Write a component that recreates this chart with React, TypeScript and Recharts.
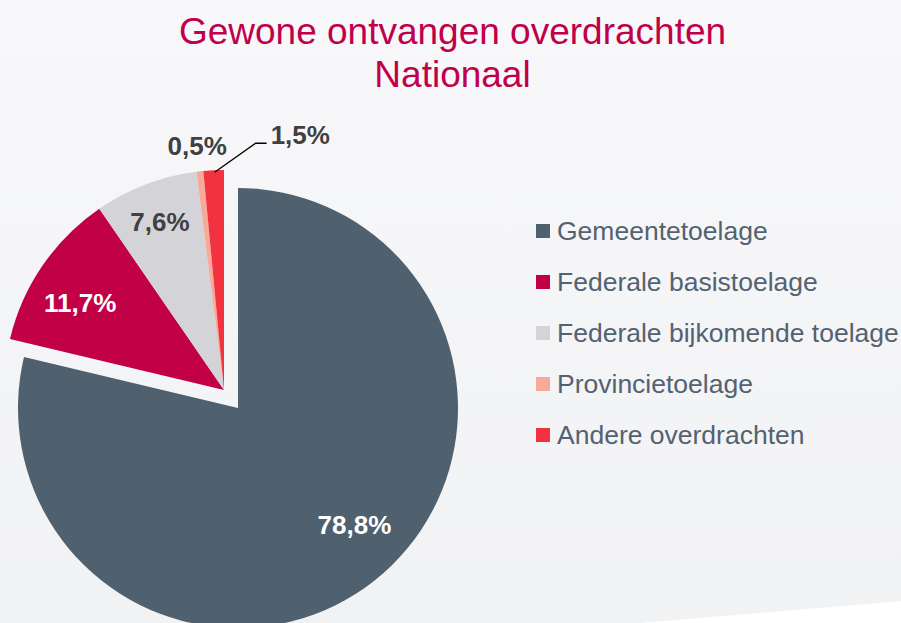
import React from 'react';
import { PieChart, Pie, Cell } from 'recharts';

const categories = [
  'Gemeentetoelage',
  'Federale basistoelage',
  'Federale bijkomende toelage',
  'Provincietoelage',
  'Andere overdrachten',
];
const shares = [78.8, 11.7, 7.6, 0.5, 1.5];
const colors = ['#4f606e', '#c20045', '#d4d4d8', '#f7aa9a', '#f2333f'];
const labelColors = ['#ffffff', '#ffffff', '#404040', '#404040', '#404040'];
const titleLines = ['Gewone ontvangen overdrachten', 'Nationaal'];

const data = categories.map((name, i) => ({ name, value: shares[i] }));

// label layout (radius from slice centre, angle tweak in degrees)
const labelRadius = [165, 168, 180, 245, 220];
const labelAngleTweak = [6.6, 3.3, 0, 0, 0];

const FONT = '"Liberation Sans", Arial, sans-serif';
const RAD = Math.PI / 180;

const fmt = (v: number) => v.toFixed(1).replace('.', ',') + '%';

const makeLabel = (indices: number[]) => (props: any) => {
  const { cx, cy, midAngle, index, value } = props;
  if (!indices.includes(index)) return null;
  const r = labelRadius[index];
  const a = (midAngle + labelAngleTweak[index]) * RAD;
  const x = cx + r * Math.cos(-a);
  const y = cy + r * Math.sin(-a);
  if (index === 4) {
    const sx = x + 1;
    const sy = y + 2;
    const ex = sx + 41;
    const ey = sy - 29;
    const fx = ex + 11;
    return (
      <g key={`lbl-${index}`}>
        <polyline
          points={`${sx},${sy} ${ex},${ey} ${fx},${ey}`}
          fill="none"
          stroke="#000"
          strokeWidth={1.3}
        />
        <text
          x={fx + 4}
          y={ey - 8}
          fill={labelColors[index]}
          fontFamily={FONT}
          fontWeight="bold"
          fontSize={26}
          textAnchor="start"
          dominantBaseline="central"
        >
          {fmt(value)}
        </text>
      </g>
    );
  }
  return (
    <text
      key={`lbl-${index}`}
      x={x}
      y={y}
      fill={labelColors[index]}
      fontFamily={FONT}
      fontWeight="bold"
      fontSize={26}
      textAnchor="middle"
      dominantBaseline="central"
    >
      {fmt(value)}
    </text>
  );
};

export default function App() {
  return (
    <div
      style={{
        position: 'absolute',
        left: 0,
        top: 0,
        width: 901,
        height: 623,
        overflow: 'hidden',
        background: 'linear-gradient(#f8f8fa, #f1f2f4)',
        fontFamily: FONT,
      }}
    >
      <div
        style={{
          position: 'absolute',
          left: 0,
          top: 0,
          width: 901,
          height: 623,
          background: '#ffffff',
          clipPath: 'polygon(640px 623px, 901px 601px, 901px 623px)',
        }}
      />
      <div
        style={{
          position: 'absolute',
          left: 0,
          top: 10,
          width: 905,
          textAlign: 'center',
          color: '#c0004a',
          fontSize: 37,
          lineHeight: '43px',
        }}
      >
        {titleLines.map((t) => (
          <div key={t}>{t}</div>
        ))}
      </div>
      <div style={{ position: 'absolute', left: 0, top: 0 }}>
        <PieChart width={901} height={623} margin={{ top: 0, right: 0, bottom: 0, left: 0 }}>
          <Pie
            data={data}
            dataKey="value"
            nameKey="name"
            cx={238}
            cy={408}
            outerRadius={220}
            startAngle={90}
            endAngle={-270}
            stroke="none"
            isAnimationActive={false}
            labelLine={false}
            label={makeLabel([0])}
            legendType="none"
          >
            {data.map((d, i) => (
              <Cell key={d.name} fill={i === 0 ? colors[i] : 'transparent'} stroke="none" />
            ))}
          </Pie>
          <Pie
            data={data}
            dataKey="value"
            nameKey="name"
            cx={224}
            cy={390}
            outerRadius={220}
            startAngle={90}
            endAngle={-270}
            stroke="none"
            isAnimationActive={false}
            labelLine={false}
            label={makeLabel([1, 2, 3, 4])}
            legendType="none"
          >
            {data.map((d, i) => (
              <Cell key={d.name} fill={i === 0 ? 'transparent' : colors[i]} stroke="none" />
            ))}
          </Pie>
        </PieChart>
      </div>
      <div style={{ position: 'absolute', left: 536, top: 206 }}>
        {categories.map((c, i) => (
          <div
            key={c}
            style={{
              display: 'flex',
              alignItems: 'center',
              height: 50.8,
              whiteSpace: 'nowrap',
            }}
          >
            <div style={{ width: 14, height: 14, background: colors[i], marginRight: 7, flex: 'none' }} />
            <span style={{ fontSize: 26.5, color: '#536270', lineHeight: '30px' }}>{c}</span>
          </div>
        ))}
      </div>
    </div>
  );
}
